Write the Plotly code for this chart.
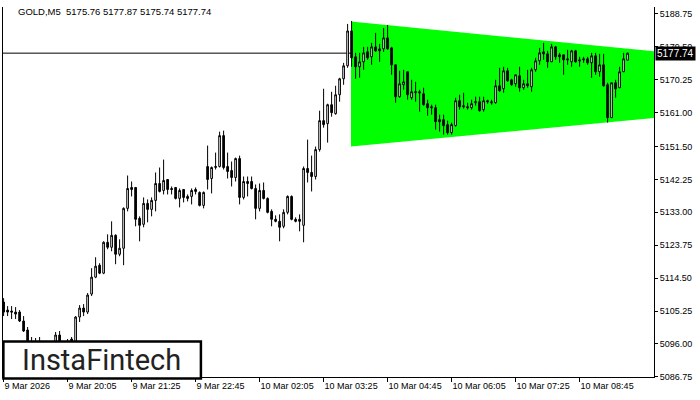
import plotly.graph_objects as go

# ---- data ----
opens = [5107.77,5105.53,5105.25,5104.97,5104.97,5102.45,5099.93,5096.00,5094.04,5095.16,
         5093.20,5091.23,5092.92,5095.16,5098.52,5095.72,5092.92,5097.40,5096.28,5103.57,
         5106.09,5104.97,5110.03,5114.78,5118.14,5115.90,5124.58,5123.18,5126.54,5121.22,
         5122.90,5134.11,5139.99,5139.99,5131.31,5129.63,5135.51,5133.83,5136.35,5141.11,
         5139.15,5142.23,5139.71,5139.99,5136.91,5139.43,5137.47,5137.47,5139.43,5138.59,
         5134.95,5145.88,5142.51,5145.60,5145.88,5154.56,5145.88,5144.76,5142.79,5148.11,
         5137.19,5141.67,5141.67,5139.71,5134.11,5139.15,5136.91,5133.27,5131.03,5130.47,
         5129.07,5132.99,5137.47,5131.03,5131.03,5129.35,5145.32,5144.20,5143.07,5150.64,
         5158.77,5157.93,5163.25,5160.73,5166.05,5170.53,5174.18,5183.98,5176.70,5173.90,
         5175.30,5178.10,5176.70,5179.50,5178.94,5178.94,5182.02,5179.22,5174.46,5165.49,
         5168.85,5172.50,5165.21,5166.61,5166.89,5166.33,5163.53,5162.69,5162.41,5159.05,
         5159.05,5157.65,5155.40,5157.37,5164.37,5162.97,5162.69,5162.41,5163.81,5164.09,
         5161.85,5164.37,5164.09,5163.81,5168.57,5167.73,5172.78,5170.25,5169.13,5171.37,
         5168.01,5169.13,5168.29,5173.06,5175.58,5178.10,5177.54,5175.30,5179.50,5177.26,
         5177.26,5176.14,5175.30,5178.38,5175.86,5176.14,5176.14,5175.02,5176.98,5172.50,
         5174.46,5168.85,5159.61,5169.41,5168.01,5172.50,5175.76]
highs = [5108.89,5106.65,5106.65,5106.37,5105.53,5103.85,5100.77,5097.96,5097.68,5097.96,
         5094.60,5094.04,5096.28,5099.37,5099.65,5096.56,5097.40,5097.96,5103.85,5106.93,
         5107.21,5110.31,5117.30,5120.38,5118.70,5124.86,5126.82,5130.47,5126.82,5125.42,
         5134.39,5143.35,5141.67,5139.99,5131.87,5137.19,5136.63,5137.19,5144.20,5145.60,
         5147.83,5142.23,5140.27,5139.99,5139.71,5139.43,5138.03,5139.71,5139.99,5138.87,
         5138.87,5151.76,5145.88,5149.79,5155.68,5155.96,5149.79,5147.28,5148.39,5148.95,
         5143.07,5143.07,5143.07,5140.83,5141.11,5141.39,5137.19,5133.83,5132.15,5132.43,
         5133.83,5137.75,5137.75,5131.59,5132.43,5145.88,5153.44,5148.95,5151.48,5161.57,
         5167.73,5163.53,5166.89,5168.57,5170.81,5175.02,5185.95,5186.79,5177.82,5177.82,
         5179.50,5179.50,5180.62,5183.42,5180.34,5184.82,5185.67,5179.50,5174.46,5172.78,
         5173.06,5172.50,5170.25,5169.69,5167.45,5168.01,5164.65,5163.25,5163.25,5160.45,
         5160.45,5158.77,5158.21,5165.21,5166.05,5166.61,5163.81,5164.65,5165.49,5165.49,
         5165.49,5164.65,5164.65,5170.25,5173.62,5173.90,5173.62,5170.53,5171.66,5173.90,
         5170.25,5173.06,5173.62,5176.42,5179.22,5180.62,5178.38,5180.34,5179.78,5177.82,
         5177.26,5178.66,5178.66,5178.66,5176.70,5176.70,5176.70,5177.82,5177.82,5177.54,
         5177.54,5169.41,5169.41,5170.25,5173.90,5177.82,5177.87]
lows = [5103.85,5103.85,5103.01,5103.01,5102.17,5099.37,5094.60,5092.92,5092.36,5091.80,
        5090.12,5089.56,5091.80,5094.04,5094.60,5091.80,5091.23,5094.60,5095.72,5102.17,
        5103.85,5104.41,5109.47,5114.50,5115.62,5115.62,5122.62,5122.06,5118.42,5120.66,
        5118.14,5133.27,5137.47,5129.07,5124.86,5128.79,5130.19,5131.87,5133.27,5138.59,
        5138.03,5138.03,5138.03,5136.63,5134.39,5135.79,5136.07,5135.23,5138.03,5134.67,
        5134.11,5139.43,5138.31,5145.04,5145.60,5145.04,5142.51,5140.27,5141.67,5135.23,
        5136.63,5137.47,5139.43,5131.03,5133.27,5136.63,5132.71,5129.07,5130.19,5124.86,
        5128.51,5132.43,5130.75,5130.19,5127.66,5124.58,5141.39,5138.87,5142.23,5150.07,
        5156.80,5152.60,5159.89,5160.45,5164.09,5168.85,5173.62,5173.90,5170.53,5170.81,
        5173.06,5175.86,5174.46,5178.10,5175.30,5178.10,5178.66,5171.66,5163.81,5165.21,
        5167.45,5164.65,5164.65,5164.09,5161.29,5162.97,5160.17,5160.45,5156.24,5155.68,
        5154.84,5154.84,5154.84,5157.09,5161.85,5162.13,5161.85,5161.85,5162.97,5161.29,
        5161.29,5163.53,5163.25,5163.53,5166.89,5166.61,5169.69,5168.57,5168.29,5166.89,
        5167.45,5168.01,5166.89,5172.50,5174.46,5175.86,5173.62,5175.30,5175.86,5175.02,
        5171.66,5174.46,5173.90,5175.02,5173.90,5175.02,5174.46,5170.81,5171.66,5171.09,
        5168.29,5158.21,5159.61,5165.21,5168.01,5172.50,5175.74]
closes = [5104.97,5104.97,5104.97,5104.41,5102.45,5099.65,5096.00,5094.04,5095.16,5093.20,
          5091.23,5092.92,5095.16,5098.52,5095.72,5092.92,5096.28,5096.28,5103.57,5106.09,
          5104.97,5109.75,5114.78,5117.86,5115.90,5124.58,5123.18,5126.54,5121.22,5122.90,
          5134.11,5139.71,5139.43,5131.03,5129.35,5135.51,5133.83,5136.35,5141.11,5138.87,
          5141.95,5139.43,5139.43,5136.91,5139.15,5137.19,5136.91,5139.15,5138.87,5134.95,
          5138.59,5142.23,5145.60,5145.88,5154.56,5145.60,5144.48,5142.79,5148.11,5137.19,
          5141.67,5141.11,5139.71,5134.11,5139.15,5136.91,5132.99,5131.03,5130.47,5128.79,
          5132.99,5137.47,5131.03,5130.47,5130.47,5145.32,5144.20,5143.07,5150.64,5158.77,
          5157.65,5163.25,5161.01,5166.05,5170.53,5174.18,5183.98,5176.42,5173.90,5175.30,
          5177.82,5176.42,5179.50,5178.38,5178.38,5182.02,5178.94,5174.46,5165.49,5169.13,
          5169.69,5166.05,5166.89,5166.89,5166.61,5163.25,5162.41,5162.41,5158.49,5158.49,
          5157.37,5155.40,5157.65,5164.37,5162.69,5162.69,5162.41,5163.53,5164.09,5161.57,
          5164.37,5164.09,5163.81,5168.57,5167.17,5172.78,5169.97,5168.85,5171.66,5168.01,
          5169.13,5168.57,5173.06,5175.58,5177.82,5177.54,5175.30,5179.50,5176.70,5176.70,
          5175.86,5175.86,5178.38,5175.30,5175.58,5175.86,5175.02,5176.98,5172.50,5174.46,
          5168.57,5159.61,5169.41,5167.73,5172.50,5176.14,5177.74]

tick_idx = [0, 16, 32, 48, 64, 80, 96, 112, 128, 144]
tick_labels = ["9 Mar 2026", "9 Mar 20:05", "9 Mar 21:25", "9 Mar 22:45", "10 Mar 02:05",
               "10 Mar 03:25", "10 Mar 04:45", "10 Mar 06:05", "10 Mar 07:25", "10 Mar 08:45"]
price_ticks = [5188.75, 5179.50, 5170.25, 5161.00, 5151.50, 5142.25, 5133.00,
               5123.75, 5114.50, 5105.25, 5096.00, 5086.75]

# pennant (triangle) pattern corners: x as bar index, y as price
tri_x = [86.85, 162.6, 162.6, 86.85]
tri_y = [5186.65, 5178.24, 5159.53, 5151.48]

last_price = 5177.74
header = "GOLD,M5  5175.76 5177.87 5175.74 5177.74"

x_range = [-0.15, 162.6]
y_range = [5086.72, 5190.71]

idx = list(range(len(opens)))

fig = go.Figure()
fig.add_trace(go.Candlestick(
    x=idx, open=opens, high=highs, low=lows, close=closes,
    increasing=dict(line=dict(color="black", width=1), fillcolor="white"),
    decreasing=dict(line=dict(color="black", width=1), fillcolor="black"),
    whiskerwidth=0, showlegend=False, hoverinfo="skip"))

# triangle pattern (below the candles)
tri_path = "M " + " L ".join(f"{x},{y}" for x, y in zip(tri_x, tri_y)) + " Z"
fig.add_shape(type="path", path=tri_path, xref="x", yref="y",
              fillcolor="#00FF00", line=dict(width=0), layer="below")
# current price line
fig.add_shape(type="line", xref="paper", yref="y", x0=0, x1=1, y0=last_price, y1=last_price,
              line=dict(color="black", width=1), layer="below")

font_axis = dict(family="Liberation Sans, Arial, sans-serif", size=9, color="black")

fig.update_layout(
    width=700, height=400,
    margin=dict(l=3, r=46, t=7, b=23),
    paper_bgcolor="white", plot_bgcolor="white",
    boxgap=0.4,
    showlegend=False,
    xaxis=dict(range=x_range, rangeslider=dict(visible=False), showgrid=False, zeroline=False,
               showline=True, linecolor="black", linewidth=1,
               tickmode="array", tickvals=tick_idx, ticktext=tick_labels,
               ticks="outside", ticklen=4, tickcolor="black", tickwidth=1,
               ticklabelposition="outside right", tickfont=font_axis),
    yaxis=dict(range=y_range, side="right", showgrid=False, zeroline=False,
               showline=True, linecolor="black", linewidth=1, mirror=True,
               tickmode="array", tickvals=price_ticks,
               ticktext=[f"{v:.2f}" for v in price_ticks],
               ticks="outside", ticklen=3, tickcolor="black", tickwidth=1,
               tickfont=font_axis),
)

# header text
fig.add_annotation(x=0.0195, y=0.989, xref="paper", yref="paper", xanchor="left", yanchor="middle",
                   text=header, showarrow=False,
                   font=dict(family="Liberation Sans, Arial, sans-serif", size=9.5, color="black"))

# current price label
fig.add_annotation(x=1, y=last_price, xref="paper", yref="y", xanchor="left", yanchor="middle",
                   xshift=1, text=f"{last_price:.2f}", showarrow=False,
                   bgcolor="black", borderpad=1,
                   font=dict(family="Liberation Sans, Arial, sans-serif", size=10, color="white"))

# logo box
fig.add_shape(type="rect", xref="paper", yref="paper", x0=0.0006, x1=0.304, y0=-0.004, y1=0.096,
              line=dict(color="black", width=2.5), fillcolor="white", layer="above")
fig.add_annotation(x=0.152, y=0.046, xref="paper", yref="paper", xanchor="center", yanchor="middle",
                   text="InstaFintech", showarrow=False,
                   font=dict(family="Roboto, sans-serif", size=29, color="#222222"))

fig.write_html("out.html", config={"displayModeBar": False},
               post_script="document.body.style.margin='0px';")
